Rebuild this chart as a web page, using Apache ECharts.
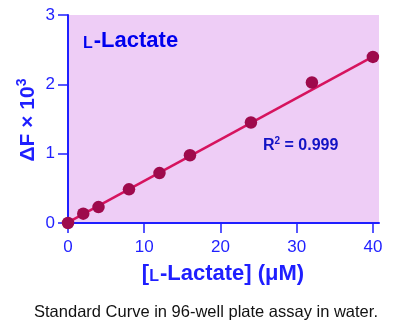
<!DOCTYPE html>
<html><head><meta charset="utf-8">
<script src="https://cdn.jsdelivr.net/npm/echarts@6/dist/echarts.min.js"></script>
<style>html,body{margin:0;padding:0;background:#fff}#c{width:401px;height:326px}</style>
</head><body><div id="c"></div>
<script>
const concentrations = [0, 2, 4, 8, 12, 16, 24, 32, 40];
const deltaF = [0, 0.135, 0.23, 0.486, 0.72, 0.977, 1.449, 2.026, 2.395];
const fitX = [0, 40];
const fitY = [0.01, 2.40];
const xTicks = [0, 10, 20, 30, 40];
const yTicks = [0, 1, 2, 3];
const r2Text = '0.999';

const blue = '#1f1fff';
const font = 'Liberation Sans, Arial, sans-serif';
const chart = echarts.init(document.getElementById('c'));
chart.setOption({
  animation: false,
  grid: { left: 68, right: 22, top: 15, bottom: 103, show: true, backgroundColor: '#eecdf6', borderWidth: 0 },
  xAxis: {
    type: 'value', min: 0, max: 40.8, interval: 10,
    axisLine: { show: true, onZero: false, lineStyle: { color: blue, width: 2 } },
    axisTick: { show: true, length: 10, lineStyle: { color: blue, width: 1.5 }, customValues: xTicks },
    axisLabel: { color: blue, fontSize: 17, fontFamily: font, margin: 16, customValues: xTicks },
    splitLine: { show: false }
  },
  yAxis: {
    type: 'value', min: 0, max: 3, interval: 1,
    axisLine: { show: true, onZero: false, lineStyle: { color: blue, width: 2 } },
    axisTick: { show: true, length: 10, lineStyle: { color: blue, width: 1.5 }, customValues: yTicks },
    axisLabel: { color: blue, fontSize: 17, fontFamily: font, margin: 13, customValues: yTicks },
    splitLine: { show: false }
  },
  series: [
    { type: 'line', data: fitX.map((x, i) => [x, fitY[i]]), symbol: 'none',
      lineStyle: { color: '#d6135e', width: 2.5 }, z: 2 },
    { type: 'scatter', data: concentrations.map((x, i) => [x, deltaF[i]]), symbolSize: 12.5,
      itemStyle: { color: '#9e0a4c', opacity: 1 }, z: 3 }
  ],
  graphic: [
    { type: 'text', x: 83, y: 41, z: 10,
      style: { text: '{s|L}{b|-Lactate}', verticalAlign: 'middle', rich: {
        s: { fontSize: 16, fontWeight: 'bold', fontFamily: font, fill: '#0000ee', padding: [5,1,0,0] },
        b: { fontSize: 22, fontWeight: 'bold', fontFamily: font, fill: '#0000ee' } } } },
    { type: 'text', x: 263, y: 146, z: 10,
      style: { text: '{b|R}{s|2}{b| = ' + r2Text + '}', verticalAlign: 'middle', rich: {
        b: { fontSize: 16, fontWeight: 'bold', fontFamily: font, fill: '#1212c4' },
        s: { fontSize: 10, fontWeight: 'bold', fontFamily: font, fill: '#1212c4', padding: [0,0,9,0] } } } },
    { type: 'text', x: 28, y: 120, rotation: Math.PI / 2, z: 10,
      style: { text: '{b|ΔF × 10}{s|3}', align: 'center', verticalAlign: 'middle', rich: {
        b: { fontSize: 21, fontWeight: 'bold', fontFamily: font, fill: blue },
        s: { fontSize: 14, fontWeight: 'bold', fontFamily: font, fill: blue, padding: [0,0,12,0] } } } },
    { type: 'text', x: 223, y: 274, z: 10,
      style: { text: '{b|[}{s|L}{b|-Lactate] (μM)}', align: 'center', verticalAlign: 'middle', rich: {
        b: { fontSize: 22, fontWeight: 'bold', fontFamily: font, fill: blue },
        s: { fontSize: 16, fontWeight: 'bold', fontFamily: font, fill: blue, padding: [5,1,0,0] } } } },
    { type: 'text', x: 206, y: 312, z: 10,
      style: { text: 'Standard Curve in 96-well plate assay in water.', align: 'center', verticalAlign: 'middle',
        fontSize: 16.5, fontFamily: font, fill: '#111' } }
  ]
});
</script></body></html>
